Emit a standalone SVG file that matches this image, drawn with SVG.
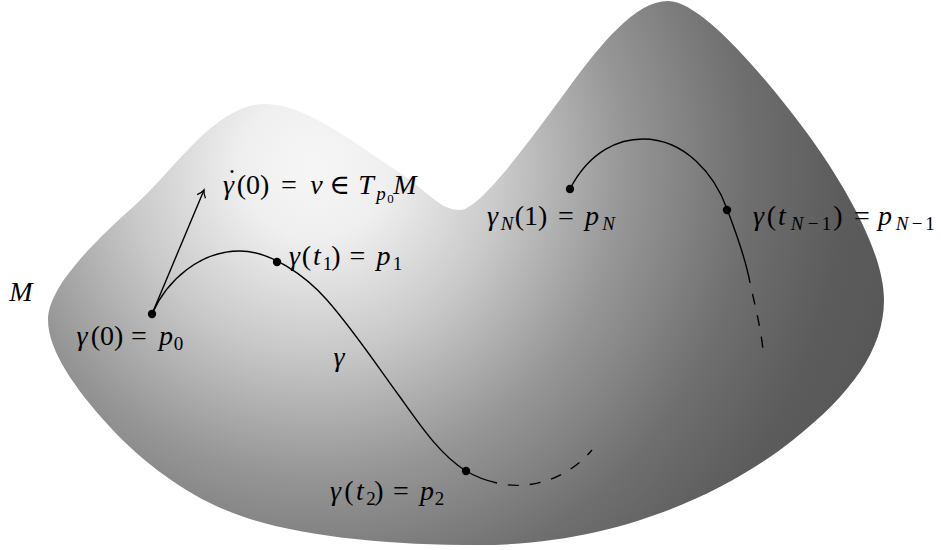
<svg xmlns="http://www.w3.org/2000/svg" width="941" height="550" viewBox="0 0 941 550">
<style>
.lbl{font-family:"Liberation Serif","DejaVu Serif",serif;font-size:28px;fill:#000;text-anchor:middle}
.i{font-style:italic}
.s{font-size:19px}
.ss{font-size:13px}
.curve{fill:none;stroke:#000;stroke-width:1.4}
.dash{fill:none;stroke:#000;stroke-width:1.4;stroke-dasharray:11 11;stroke-dashoffset:11}
.dot{fill:#000}
</style>
<defs>
<radialGradient id="shade" gradientUnits="userSpaceOnUse" cx="315" cy="165" r="620">
<stop offset="0" stop-color="#f6f6f6"/>
<stop offset="0.12" stop-color="#efefef"/>
<stop offset="0.3" stop-color="#c9c9c9"/>
<stop offset="0.5" stop-color="#969696"/>
<stop offset="0.7" stop-color="#6f6f6f"/>
<stop offset="0.85" stop-color="#5c5c5c"/>
<stop offset="1" stop-color="#555555"/>
</radialGradient>
<marker id="to" markerUnits="userSpaceOnUse" markerWidth="20" markerHeight="20" viewBox="-10 -10 20 20" refX="0" refY="0" orient="auto">
<path d="M -7,-4.5 C -4.5,-2 -1.5,-0.5 0,0 C -1.5,0.5 -4.5,2 -7,4.5" fill="none" stroke="#000" stroke-width="1.3"/>
</marker>
</defs>

<g id="manifold">
<path fill="url(#shade)" d="M 48,320 C 48,290 85,250 133,207 C 175,170 215,104 265,104 C 305,104 350,140 400,173 C 430,193 440,210 460,210 C 480,210 530,140 567,90 C 600,45 635,1 668,1 C 700,1 760,70 807,133 C 840,178 884,250 884,300 C 884,350 850,395 793,440 C 730,490 620,545 480,545 C 380,545 290,535 233,513 C 190,497 145,465 110,427 C 75,389 48,350 48,320 Z"/>
</g>

<g id="connectors">
<path class="curve" d="M 152,314 C 167,280 200,251 240,251 C 270,251 305,275 327,300 C 355,332 380,370 400,397 C 420,425 440,455 466,471 C 478,478 488,481 497,483"/>
<path class="dash" d="M 497,483 C 525,490 565,482 592,450"/>
<path class="curve" d="M 570,189 C 590,150 620,139 643,139 C 685,139 715,175 727,209 C 737,235 746,260 750,283"/>
<path class="dash" d="M 750,283 C 755,305 760,325 763,349"/>
<line class="curve" x1="152" y1="314" x2="204" y2="190" marker-end="url(#to)"/>
</g>

<g id="p0"><circle class="dot" cx="152" cy="314" r="4.2"/>
<text class="lbl" y="345"><tspan class="i" x="82">γ</tspan><tspan x="107">(0)</tspan><tspan x="139">=</tspan><tspan class="i" x="166">p</tspan><tspan class="s" x="178.5" y="350">0</tspan></text></g>

<g id="p1"><circle class="dot" cx="277" cy="262" r="4.2"/>
<text class="lbl" y="265"><tspan class="i" x="294.5">γ</tspan><tspan x="306.5">(</tspan><tspan class="i" x="317">t</tspan><tspan class="s" x="327.5" y="270">1</tspan><tspan x="336" y="265">)</tspan><tspan x="357.5">=</tspan><tspan class="i" x="383.5">p</tspan><tspan class="s" x="397.5" y="270">1</tspan></text></g>

<g id="p2"><circle class="dot" cx="466" cy="471" r="4.2"/>
<text class="lbl" y="500"><tspan class="i" x="335.5">γ</tspan><tspan x="349">(</tspan><tspan class="i" x="360">t</tspan><tspan class="s" x="371" y="505">2</tspan><tspan x="379" y="500">)</tspan><tspan x="401">=</tspan><tspan class="i" x="427">p</tspan><tspan class="s" x="439.5" y="505">2</tspan></text></g>

<g id="pN"><circle class="dot" cx="570" cy="189" r="4.2"/>
<text class="lbl" y="225"><tspan class="i" x="492.5">γ</tspan><tspan class="s i" x="507" y="230">N</tspan><tspan x="531" y="225">(1)</tspan><tspan x="566">=</tspan><tspan class="i" x="592">p</tspan><tspan class="s i" x="608.5" y="230">N</tspan></text></g>

<g id="pN1"><circle class="dot" cx="727" cy="210" r="4.2"/>
<text class="lbl" y="225"><tspan class="i" x="758.5">γ</tspan><tspan x="771.5">(</tspan><tspan class="i" x="782">t</tspan><tspan class="s i" x="797" y="230">N</tspan><tspan class="s" x="813" y="230">−</tspan><tspan class="s" x="826.5" y="230">1</tspan><tspan x="838" y="225">)</tspan><tspan x="862">=</tspan><tspan class="i" x="885">p</tspan><tspan class="s i" x="902" y="230">N</tspan><tspan class="s" x="917" y="230">−</tspan><tspan class="s" x="930" y="230">1</tspan></text></g>

<g id="velocity">
<text class="lbl" y="194"><tspan class="i" x="228.5">γ</tspan><tspan x="232" y="188">˙</tspan><tspan x="253" y="194">(0)</tspan><tspan x="289">=</tspan><tspan class="i" x="316.5">v</tspan><tspan x="339.5">∈</tspan><tspan class="i" x="366">T</tspan><tspan class="s i" x="381" y="200">p</tspan><tspan class="ss" x="390.5" y="203">0</tspan><tspan class="i" x="405" y="194">M</tspan></text>
</g>

<g id="labels">
<text class="lbl i" x="21" y="301">M</text>
<text class="lbl i" x="339" y="366">γ</text>
</g>
</svg>
